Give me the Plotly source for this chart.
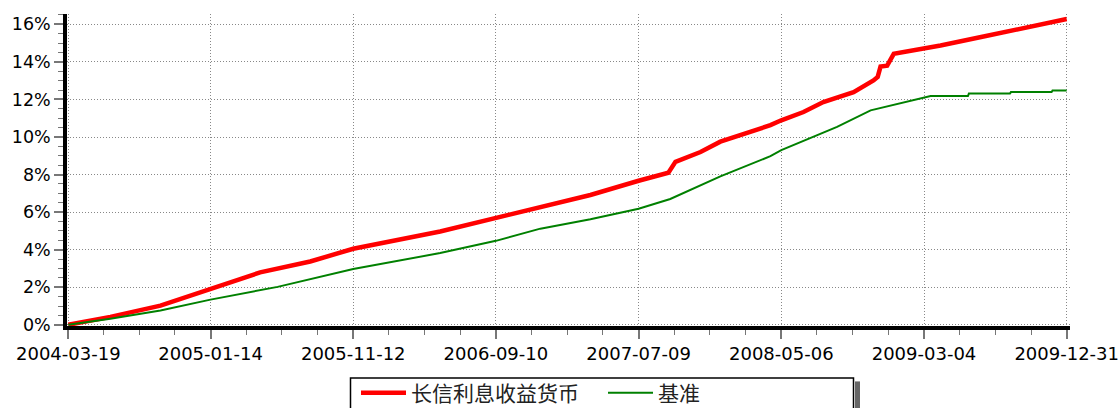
import plotly.graph_objects as go
import pandas as pd

tick_labels = ["2004-03-19", "2005-01-14", "2005-11-12", "2006-09-10",
               "2007-07-09", "2008-05-06", "2009-03-04", "2009-12-31"]

fund_name = "长信利息收益货币"
fund_dates = ["2004-03-19", "2004-06-16", "2004-09-30", "2005-01-14", "2005-04-29",
              "2005-08-13", "2005-11-12", "2006-05-15", "2006-09-10", "2006-12-13",
              "2007-03-29", "2007-07-09", "2007-09-10", "2007-09-25", "2007-11-17",
              "2007-12-29", "2008-02-20", "2008-04-13", "2008-05-06", "2008-06-22",
              "2008-08-03", "2008-10-06", "2008-11-17", "2008-11-26", "2008-12-02",
              "2008-12-16", "2008-12-30", "2009-03-04", "2009-04-08", "2009-07-08",
              "2009-12-31"]
fund_values = [0.00, 0.42, 1.02, 1.91, 2.79,
               3.37, 4.05, 4.97, 5.68, 6.29,
               6.91, 7.67, 8.10, 8.68, 9.20,
               9.75, 10.20, 10.63, 10.89, 11.33,
               11.86, 12.39, 13.01, 13.20, 13.75,
               13.80, 14.43, 14.69, 14.87, 15.35,
               16.28]

bench_name = "基准"
bench_dates = ["2004-03-19", "2004-06-16", "2004-09-30", "2005-01-14", "2005-06-05",
               "2005-11-12", "2006-05-15", "2006-09-10", "2006-12-13", "2007-03-29",
               "2007-07-09", "2007-09-14", "2007-12-29", "2008-04-13", "2008-05-06",
               "2008-09-01", "2008-11-11", "2009-01-20", "2009-03-04", "2009-03-18",
               "2009-06-05", "2009-06-07", "2009-09-02", "2009-09-04", "2009-11-29",
               "2009-12-01", "2009-12-31"]
bench_values = [0.00, 0.32, 0.76, 1.34, 2.02,
                2.97, 3.82, 4.47, 5.12, 5.62,
                6.18, 6.70, 7.90, 8.98, 9.30,
                10.54, 11.42, 11.86, 12.10, 12.18,
                12.18, 12.31, 12.31, 12.39, 12.39,
                12.48, 12.48]

# minor x ticks: 4 sub-intervals between consecutive labelled dates
tk = pd.to_datetime(tick_labels)
minor_vals = []
for a, b in zip(tk[:-1], tk[1:]):
    for k in (1, 2, 3):
        minor_vals.append((a + (b - a) * k / 4).strftime("%Y-%m-%d %H:%M"))

W, H = 1120, 408
ML, MR, MT, MB = 67, 50, 14, 81.5
PW, PH = W - ML - MR, H - MT - MB


def px_x(p):  # pixel -> paper x
    return (p - ML) / PW


def px_y(p):  # pixel -> paper y
    return (H - MB - p) / PH


fig = go.Figure()
fig.add_trace(go.Scatter(x=fund_dates, y=fund_values, name=fund_name, mode="lines",
                         line=dict(color="#FF0000", width=4.5)))
fig.add_trace(go.Scatter(x=bench_dates, y=bench_values, name=bench_name, mode="lines",
                         line=dict(color="#008000", width=2)))

# legend frame with drop shadow
fig.add_shape(type="rect", xref="paper", yref="paper",
              x0=px_x(855), x1=px_x(860), y0=px_y(382), y1=px_y(412),
              line=dict(width=0), fillcolor="#666666", layer="above")
fig.add_shape(type="rect", xref="paper", yref="paper",
              x0=px_x(350.5), x1=px_x(853.5), y0=px_y(378.5), y1=px_y(412),
              line=dict(width=1.5, color="black"), fillcolor="white", layer="above")

xfont = dict(family="DejaVu Sans", size=18, color="black")
yfont = dict(family="DejaVu Sans", size=17.5, color="black")
grid = dict(showgrid=True, gridcolor="#888888", griddash="1px,2px", gridwidth=1)

fig.update_layout(
    width=W, height=H,
    margin=dict(l=ML, r=MR, t=MT, b=MB, autoexpand=False),
    paper_bgcolor="white", plot_bgcolor="white",
    showlegend=True,
    legend=dict(orientation="h", xref="container", yref="container",
                x=356 / W, y=1 - 393 / H, xanchor="left", yanchor="middle",
                bgcolor="rgba(0,0,0,0)", borderwidth=0,
                font=dict(family="Noto Sans CJK SC", size=21, color="#222"),
                entrywidth=187, itemwidth=45),
    xaxis=dict(type="date", range=["2004-03-16 06:00", "2010-01-07"], automargin=False,
               tickmode="array", tickvals=tick_labels, ticktext=tick_labels,
               showline=True, linecolor="black", linewidth=3.5,
               ticks="outside", ticklen=9, tickwidth=1.5, tickcolor="#777777",
               ticklabelstandoff=0,
               minor=dict(tickmode="array", tickvals=minor_vals, ticks="outside",
                          ticklen=5, tickwidth=1, tickcolor="#777777", showgrid=False),
               tickfont=xfont, zeroline=False, **grid),
    yaxis=dict(range=[-0.064, 16.55], automargin=False,
               tickmode="linear", tick0=0, dtick=2, ticksuffix="%",
               showline=True, linecolor="black", linewidth=3.5,
               ticks="outside", ticklen=9, tickwidth=1.5, tickcolor="#777777",
               minor=dict(tick0=0, dtick=0.5, ticks="outside", ticklen=5, tickwidth=1,
                          tickcolor="#777777", showgrid=False),
               tickfont=yfont, zeroline=False, **grid),
)

fig.write_html("out.html", config={"displayModeBar": False},
               post_script="document.body.style.margin='0px';document.body.style.overflow='hidden';")
